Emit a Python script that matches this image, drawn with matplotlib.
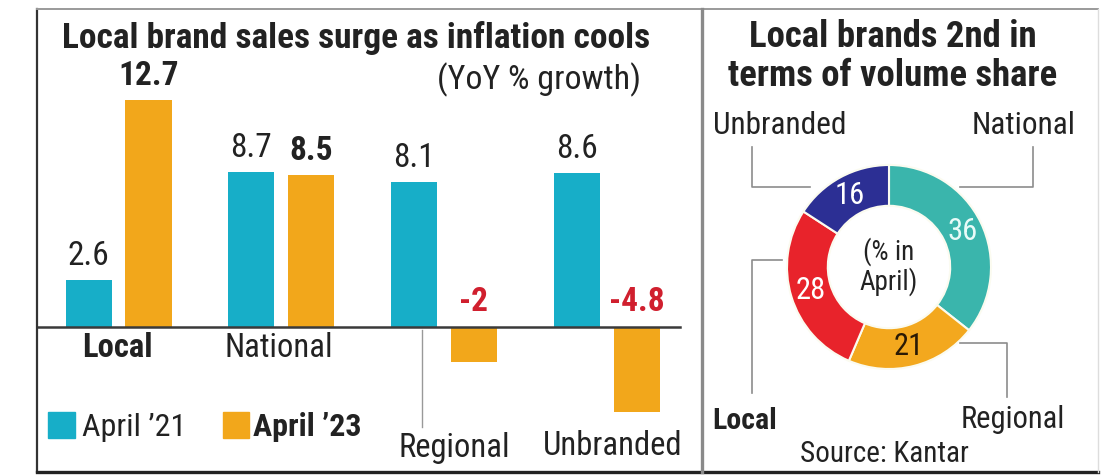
import matplotlib
matplotlib.use("Agg")
import matplotlib.pyplot as plt
from matplotlib import font_manager
from matplotlib.transforms import Affine2D
from matplotlib.patches import Rectangle
from matplotlib.lines import Line2D
import numpy as np

# ---------------- data ----------------
categories = ["Local", "National", "Regional", "Unbranded"]
april_21 = [2.6, 8.7, 8.1, 8.6]
april_23 = [12.7, 8.5, -2.0, -4.8]
label_21 = ["2.6", "8.7", "8.1", "8.6"]
label_23 = ["12.7", "8.5", "-2", "-4.8"]
series_names = ["April \u201921", "April \u201923"]

share_names = ["National", "Regional", "Local", "Unbranded"]
share_values = [36, 21, 28, 16]

# ---------------- style ----------------
W, H = 1116, 476
TEAL = "#17AEC8"
ORANGE = "#F2A71B"
RED_TXT = "#D01F2E"
D_TEAL = "#3AB5AC"
D_ORANGE = "#F3A81E"
D_RED = "#E8232B"
D_NAVY = "#2C2F94"
TXT = "#222222"


def pick_font():
    names = {f.name for f in font_manager.fontManager.ttflist}
    for n in ["Roboto Condensed", "Liberation Sans Narrow", "Open Sans Condensed",
              "DejaVu Sans Condensed"]:
        if n in names:
            return n
    return "Liberation Sans"


FONT = pick_font()
plt.rcParams["font.family"] = [FONT, "DejaVu Sans"]

fig = plt.figure(figsize=(W / 100, H / 100), dpi=100)
fig.patch.set_facecolor("white")
PIX = Affine2D().scale(1 / W, -1 / H).translate(0, 1) + fig.transFigure


def ftext(x, y, s, **kw):
    kw.setdefault("color", TXT)
    return fig.text(x, y, s, transform=PIX, **kw)


def fline(xs, ys, **kw):
    fig.add_artist(Line2D(xs, ys, transform=PIX, **kw))


# ---------------- frame ----------------
fline([37, 37], [9, 472], color="#333333", lw=1.6)
fline([37, 1098], [9, 9], color="#9a9a9a", lw=1.4)
fline([37, 1098], [472, 472], color="#222222", lw=2.4)
fline([1098, 1098], [9, 472], color="#dddddd", lw=1.0)
fline([702, 702], [9, 472], color="#8a8a8a", lw=2.4)

# ---------------- bar panel ----------------
x0_px, dx_px = 118.5, 162.7
base_px, unit_px = 326.5, 17.8
left_px, right_px, top_px, bot_px = 37, 700, 10, 472
ax = fig.add_axes([left_px / W, (H - bot_px) / H, (right_px - left_px) / W,
                   (bot_px - top_px) / H])
ax.set_xlim((left_px - x0_px) / dx_px, (right_px - x0_px) / dx_px)
ax.set_ylim((base_px - bot_px) / unit_px, (base_px - top_px) / unit_px)
ax.axis("off")

x = np.arange(len(categories))
bw = 46 / dx_px
off = 30 / dx_px
ax.bar(x - off, april_21, width=bw, color=TEAL, zorder=2)
ax.bar(x + off, april_23, width=bw, color=ORANGE, zorder=2)
ax.plot([ax.get_xlim()[0], (680 - x0_px) / dx_px], [0, 0], color="#3a3a3a",
        lw=1.8, zorder=3)

pad = 0.45
for i, (v, s) in enumerate(zip(april_21, label_21)):
    ax.text(x[i] - off, v + pad, s, ha="center", va="bottom", fontsize=24,
            color=TXT)
for i, (v, s) in enumerate(zip(april_23, label_23)):
    if v >= 0:
        ax.text(x[i] + off, v + pad, s, ha="center", va="bottom", fontsize=24,
                fontweight="bold", color=TXT)
    else:
        ax.text(x[i] + off, pad, s, ha="center", va="bottom", fontsize=24,
                fontweight="bold", color=RED_TXT)

ftext(356, 38, "Local brand sales surge as inflation cools", ha="center",
      va="center", fontsize=25.5, fontweight="bold")
ftext(539, 80, "(YoY % growth)", ha="center", va="center", fontsize=24.5)

# category labels
ftext(117, 348, categories[0], ha="center", va="center", fontsize=23.5,
      fontweight="bold")
ftext(279, 348, categories[1], ha="center", va="center", fontsize=23.5)
ftext(454, 448, categories[2], ha="center", va="center", fontsize=23.5)
ftext(613, 446, categories[3], ha="center", va="center", fontsize=23.5)
fline([422, 422], [330, 427], color="#999999", lw=1.0)

# legend
fig.add_artist(Rectangle((48, 412), 27, 26, transform=PIX, color=TEAL))
ftext(82, 427, series_names[0], ha="left", va="center", fontsize=23)
fig.add_artist(Rectangle((223, 412), 26, 26, transform=PIX, color=ORANGE))
ftext(253, 427, series_names[1], ha="left", va="center", fontsize=23,
      fontweight="bold")

# ---------------- donut panel ----------------
cx, cy, R = 889, 267, 102
axp = fig.add_axes([(cx - R) / W, (H - cy - R) / H, 2 * R / W, 2 * R / H])
wedges, _ = axp.pie(share_values, colors=[D_TEAL, D_ORANGE, D_RED, D_NAVY],
                    startangle=90, counterclock=False, radius=1.0,
                    wedgeprops=dict(width=0.4, edgecolor="#fbfbf0",
                                    linewidth=1.5))
axp.set_xlim(-1, 1)
axp.set_ylim(-1, 1)
axp.set_aspect("auto")
axp.axis("off")

tot = sum(share_values)
num_colors = ["#e8fbf8", "#2a1a05", "white", "white"]
ang = 90.0
for v, c in zip(share_values, num_colors):
    span = 360.0 * v / tot
    mid = np.deg2rad(ang - span / 2)
    axp.text(0.8 * np.cos(mid), 0.8 * np.sin(mid), str(v), ha="center",
             va="center", fontsize=22, color=c)
    ang -= span
axp.text(0, 0, "(% in\nApril)", ha="center", va="center", fontsize=19.5,
         color=TXT, linespacing=1.05)

ftext(893, 37, "Local brands 2nd in", ha="center", va="center", fontsize=26.5,
      fontweight="bold")
ftext(893, 76, "terms of volume share", ha="center", va="center",
      fontsize=26.5, fontweight="bold")

ftext(780, 126, share_names[3], ha="center", va="center", fontsize=22.5)
ftext(1024, 126, share_names[0], ha="center", va="center", fontsize=22.5)
ftext(745, 421, share_names[2], ha="center", va="center", fontsize=21.5,
      fontweight="bold")
ftext(1013, 420, share_names[1], ha="center", va="center", fontsize=22)
ftext(884, 454, "Source: Kantar", ha="center", va="center", fontsize=21)

lc = "#8c8c8c"
fline([752, 752, 810], [147, 187, 187], color=lc, lw=1.2)
fline([1033, 1033, 960], [147, 187, 187], color=lc, lw=1.2)
fline([752, 752, 782], [393, 260, 260], color=lc, lw=1.2)
fline([1007, 1007, 960], [397, 343, 343], color=lc, lw=1.2)

fig.savefig("out.png", dpi=100, facecolor="white")
